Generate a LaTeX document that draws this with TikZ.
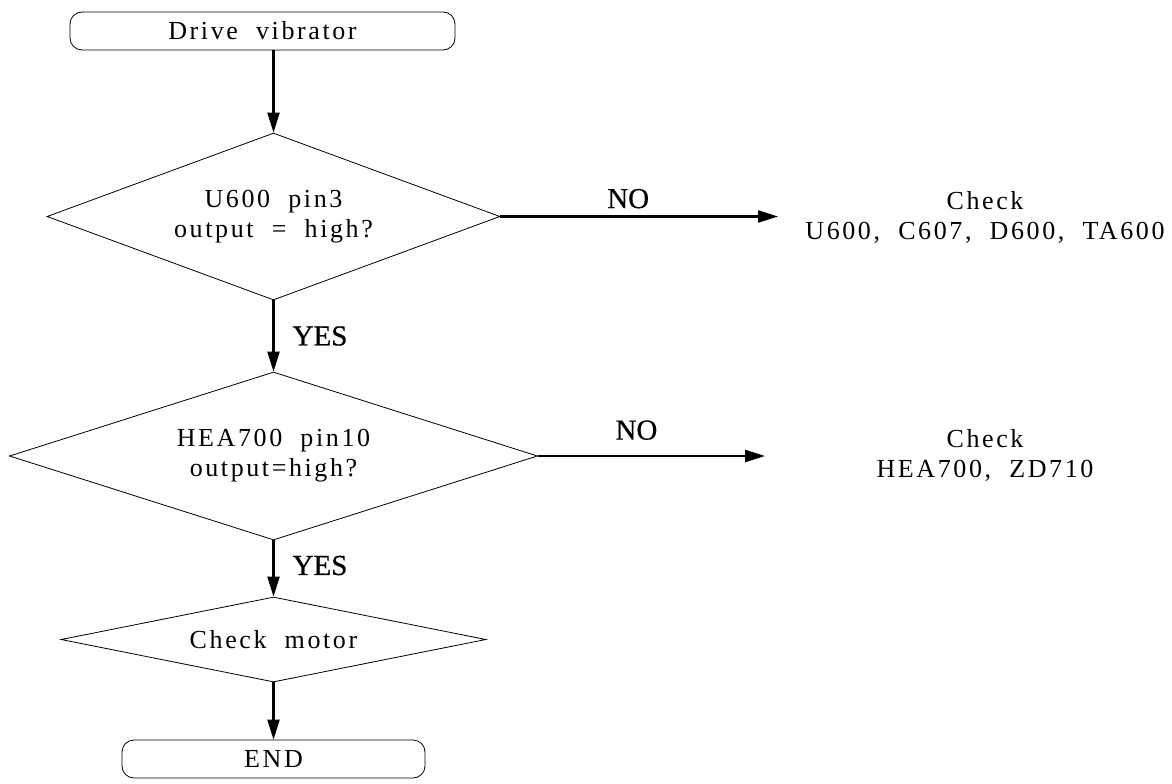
\documentclass[tikz,border=0pt]{standalone}
\usepackage{fontspec}
\setmainfont{Liberation Serif}[LetterSpace=10,WordSpace=2]
\newfontfamily\answerfont{Liberation Serif}[FakeBold=0.6]
\usetikzlibrary{arrows.meta,shapes.geometric}

\tikzset{
    terminal/.style={rectangle, rounded corners=12pt, draw, line width=0.8pt, inner sep=0pt},
    decision/.style={diamond, draw, line width=0.8pt, inner sep=0pt, align=center},
    note/.style={align=center, inner sep=0pt},
    answer/.style={inner sep=0pt, font=\answerfont\fontsize{29}{30}\selectfont},
    flow/.style={->, line width=2.2pt}
}

\begin{document}
\begin{tikzpicture}[x=1pt, y=-1pt, >={Triangle[length=20pt,width=12pt]},
    every node/.append style={font=\fontsize{26}{30}\selectfont}]
    \useasboundingbox (0,0) rectangle (1172,784);

    \node[terminal, minimum width=385pt, minimum height=38pt] (start) at (262.5,31) {Drive vibrator};
    \node[decision, aspect=2.71, minimum width=453pt, minimum height=167pt] (pin3) at (273.5,216.5) {U600 pin3\\output = high?};
    \node[decision, aspect=3.14, minimum width=528pt, minimum height=168pt] (pin10) at (273.5,456) {HEA700 pin10\\output=high?};
    \node[decision, aspect=5, minimum width=425pt, minimum height=85pt] (motor) at (273.5,639.5) {Check motor};
    \node[terminal, minimum width=303pt, minimum height=38pt] (finish) at (273.5,759) {END};

    \node[note] (chkA) at (985,217) {Check\\U600, C607, D600, TA600};
    \node[note] (chkB) at (985,455) {Check\\HEA700, ZD710};
    \coordinate (endA) at (778,216.5);
    \coordinate (endB) at (765,456);

    \draw[flow] (start.south -| pin3.north) -- (pin3.north);
    \draw[flow] (pin3.east) -- node[answer, above=7pt, xshift=-11pt] (noA) {NO} (endA);
    \draw[flow] (pin3.south) -- node[answer, right=18pt] (yesA) {YES} (pin10.north);
    \draw[flow] (pin10.east) -- node[answer, above=15pt, xshift=-15pt] (noB) {NO} (endB);
    \draw[flow] (pin10.south) -- node[answer, right=18pt, yshift=3pt] (yesB) {YES} (motor.north);
    \draw[flow] (motor.south) -- (finish.north);
\end{tikzpicture}
\end{document}
